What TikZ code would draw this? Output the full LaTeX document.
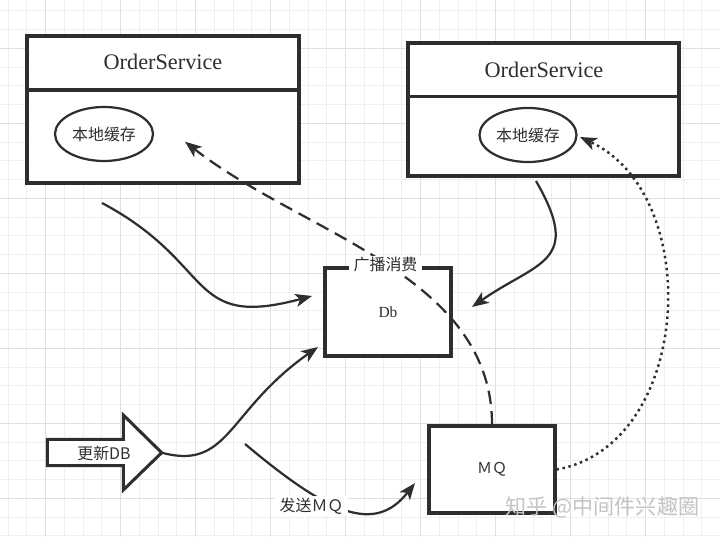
\documentclass[tikz,border=0pt]{standalone}
\usepackage{fontspec}
\setmainfont{Liberation Serif}
\newfontfamily\cjk{Noto Sans CJK SC}
\usepackage{tikz}
\usetikzlibrary{shapes.geometric,arrows.meta}
\definecolor{ink}{HTML}{2E2E2E}
\definecolor{gridminor}{HTML}{EFEFEF}
\definecolor{gridmajor}{HTML}{E0E0E0}
\definecolor{markgray}{HTML}{C4C4C4}
\newcommand{\svcbox}[5] {\node at (#1) (#2) [svcframe, minimum width=#3*0.3mm, minimum height=#4*0.3mm] {}; \draw [ink, line width=2.6pt] (#2.west |- 0,#5) -- (#2.east |- 0,#5);}
\newcommand{\cachenode}[5] {\node at (#1) (#2) [cache, minimum width=#3*0.3mm, minimum height=#4*0.3mm] {#5};}
\newcommand{\storenode}[4] {\node at (#1) (#2) [store, #3] {#4};}
\newcommand{\flowarc}[5] {\draw [flowline, #5] (#1) to[out=#3, in=#4] (#2);}

\begin{document}
\begin{tikzpicture}[x=0.3mm, y=0.3mm,
  svcframe/.style={rectangle, draw=ink, fill=white, line width=2.6pt, inner sep=0pt},
  title/.style={text=ink, font=\fontsize{19}{22}\selectfont},
  cache/.style={ellipse, draw=ink, fill=white, line width=1.9pt, inner sep=0pt, text=ink, font=\cjk\fontsize{13.6}{16}\selectfont},
  store/.style={rectangle, draw=ink, fill=white, line width=2.6pt, inner sep=0pt, text=ink},
  flowline/.style={draw=ink, line width=1.9pt, -{Stealth[length=5mm, width=3.9mm, inset=1.3mm]}},
  bcast/.style={dash pattern=on 4mm off 2.2mm},
  notify/.style={line width=2.1pt, dash pattern=on 2.1pt off 3.1pt},
  tag/.style={fill=white, inner xsep=1.3mm, inner ysep=0.4mm, text=ink, font=\cjk\fontsize{13.6}{16}\selectfont},
  minorgrid/.style={draw=gridminor, line width=0.3mm},
  majorgrid/.style={draw=gridmajor, line width=0.3mm}]
\fill [white] (0,0) rectangle (720,536);
\useasboundingbox (0,0) rectangle (720,536);
\foreach \gx in {0,...,37} \draw [minorgrid] ({8.2+\gx*18.75},0) -- ({8.2+\gx*18.75},536);
\foreach \gy in {0,...,28} \draw [minorgrid] (0,{525.2-\gy*18.75}) -- (720,{525.2-\gy*18.75});
\foreach \gx in {0,...,8} \draw [majorgrid] ({45.7+\gx*75},0) -- ({45.7+\gx*75},536);
\foreach \gy in {0,...,6} \draw [majorgrid] (0,{487.7-\gy*75}) -- (720,{487.7-\gy*75});

\svcbox {163,426.5} {lsvc} {272} {147} {446}
\svcbox {543.5,426.5} {rsvc} {271} {133} {439.3}
\node at (163,474) (ltitle) [title] {OrderService};
\node at (544,466) (rtitle) [title] {OrderService};
\cachenode {104,402} {lcache} {98} {54} {本地缓存}
\cachenode {528,401} {rcache} {97} {54} {本地缓存}

\storenode {388,224} {db} {minimum width=126*0.3mm, minimum height=88*0.3mm, font=\fontsize{13.2}{15}\selectfont} {Db}
\storenode {492,66.5} {mq} {minimum width=126*0.3mm, minimum height=87*0.3mm, font=\cjk\fontsize{12.8}{15}\selectfont} {ＭＱ}

\draw [ink, line width=2.6pt, fill=white, line join=miter] (47.3,96.7) -- (123.3,96.7) -- (123.3,121) -- (161.7,83.3) -- (123.3,46) -- (123.3,70.3) -- (47.3,70.3) -- cycle;
\coordinate (updtip) at (161.7,83.3);
\node at (104,83) (upd) [text=ink, font=\cjk\fontsize{13.6}{16}\selectfont] {更新DB};

\coordinate (lsout) at (102,333);
\coordinate (dbinl) at (312,240);
\coordinate (rsout) at (536,355);
\coordinate (dbinr) at (472,229);
\coordinate (dbinb) at (318,189);
\coordinate (sendout) at (245,92);
\coordinate (mqin) at (415,53);
\coordinate (lcachein) at (185,394.3);
\coordinate (rcachein) at (580,399);

\flowarc {lsout} {dbinl} {-28} {195} {looseness=1.45};
\flowarc {rsout} {dbinr} {-60} {35} {out looseness=1.72, in looseness=1.45};
\flowarc {updtip} {dbinb} {-15} {215} {out looseness=0.95, in looseness=1.5};
\flowarc {sendout} {mqin} {-40} {232} {out looseness=1.61, in looseness=0.96};
\flowarc {mq.north} {lcachein} {90} {-38} {bcast, looseness=0.92};
\flowarc {mq.east} {rcachein} {10} {-25} {notify, looseness=1.06};

\node at (385.5,271) (bcastlbl) [tag] {广播消费};
\node at (311.5,30) (sendlbl) [tag] {发送ＭＱ};
\node at (602.5,29) (mark) [text=markgray, font=\cjk\fontsize{18}{20}\selectfont] {知乎 @中间件兴趣圈};
\end{tikzpicture}
\end{document}
